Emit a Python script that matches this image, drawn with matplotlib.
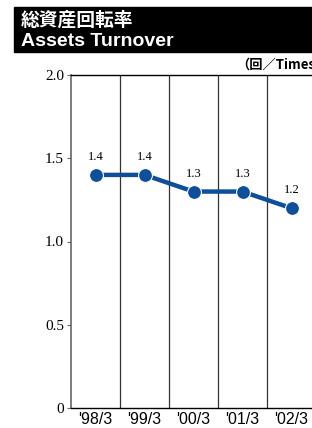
import matplotlib
matplotlib.use("Agg")
import matplotlib.pyplot as plt
from matplotlib.patches import Rectangle

categories = ["'98/3", "'99/3", "'00/3", "'01/3", "'02/3"]
values = [1.4, 1.4, 1.3, 1.3, 1.2]
value_labels = ["1.4", "1.4", "1.3", "1.3", "1.2"]
yticks = [0, 0.5, 1.0, 1.5, 2.0]
ytick_labels = ["0", "0.5", "1.0", "1.5", "2.0"]
title_jp = "総資産回転率"
title_en = "Assets Turnover"
unit_label = "（回／Times）"

W, H = 312, 428
fig = plt.figure(figsize=(W / 100, H / 100), dpi=100)

# title box
fig.patches.append(Rectangle((14 / W, 1 - 52 / H), (W - 14) / W, 45 / H,
                             transform=fig.transFigure, color="black", zorder=0))
fig.text(21 / W, 1 - 20 / H, title_jp, color="white", fontsize=13.5, fontweight="bold",
         family=["Noto Sans CJK JP", "DejaVu Sans"], va="center", ha="left")
fig.text(21 / W, 1 - 41 / H, title_en, color="white", fontsize=14, fontweight="bold",
         family=["Liberation Sans"], va="center", ha="left")
fig.text(236 / W, 1 - 65 / H, unit_label, color="black", fontsize=9.5, fontweight="bold",
         family=["Noto Sans CJK JP", "Liberation Sans"], va="center", ha="left")

left, right = 71, 316
top, bottom = 75, 408
ax = fig.add_axes([left / W, 1 - bottom / H, (right - left) / W, (bottom - top) / H])
ax.set_xlim(0, 5)
ax.set_ylim(0, 2.0)

x = [i + 0.5 for i in range(len(values))]
for b in range(1, 5):
    ax.axvline(b, color="#333333", lw=0.9, zorder=1)

ax.plot(x, values, color="#0d4f9a", lw=3.2, marker="o", markersize=10,
        markerfacecolor="#0d4f9a", markeredgecolor="white", markeredgewidth=0.8, zorder=3,
        solid_capstyle="butt")
for xi, v, lab in zip(x, values, value_labels):
    ax.annotate(lab, (xi, v), xytext=(0, 8.5), textcoords="offset points",
                ha="center", va="bottom", fontsize=9, family="Liberation Serif")

ax.set_yticks(yticks)
ax.set_yticklabels(ytick_labels, family="Liberation Serif", fontsize=11)
ax.set_xticks(x)
ax.set_xticklabels(categories, family="Liberation Sans", fontsize=11.5)
ax.tick_params(axis="x", length=0, pad=3)
ax.tick_params(axis="y", length=3, width=0.8, color="#666666", pad=2)
ax.spines["left"].set_color("#666666")
ax.spines["left"].set_linewidth(1.2)
ax.spines["right"].set_visible(False)
for s in ("top", "bottom"):
    ax.spines[s].set_color("black")
    ax.spines[s].set_linewidth(1.0)

fig.savefig("out.png", dpi=100)
